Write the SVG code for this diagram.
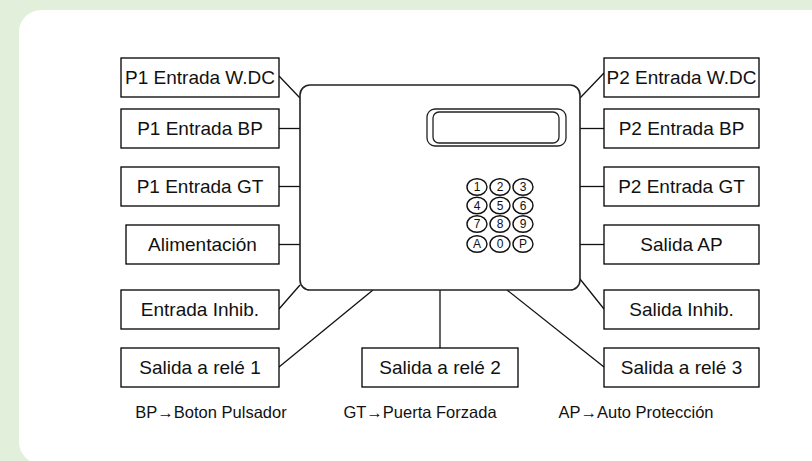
<svg xmlns="http://www.w3.org/2000/svg" width="812" height="461" viewBox="0 0 812 461">
<style>
.box{fill:#fff;stroke:#000;stroke-width:1.3}
.lbl{font-family:"Liberation Sans",Arial,sans-serif;font-size:19px;fill:#111;text-anchor:middle}
.key{fill:#fff;stroke:#111;stroke-width:1.4}
.kt{font-family:"Liberation Sans",Arial,sans-serif;font-size:12px;fill:#111;text-anchor:middle}
.note{font-family:"Liberation Sans",Arial,sans-serif;font-size:16.5px;fill:#111;text-anchor:middle}
.cn{stroke:#111;stroke-width:1.3;fill:none}
</style>
<rect x="0" y="0" width="812" height="461" fill="#e2efda"/>
<rect x="19" y="10" width="820" height="454" rx="22" fill="#fff"/>
<g id="connectors">
<path class="cn" d="M279 76 L300 98"/>
<path class="cn" d="M279 128.5 H300"/>
<path class="cn" d="M279 186.5 H300"/>
<path class="cn" d="M279 244.5 H300"/>
<path class="cn" d="M279 309 L300 285"/>
<path class="cn" d="M279 367 L373 290"/>
<path class="cn" d="M440 290 V348"/>
<path class="cn" d="M507 290 L604 367"/>
<path class="cn" d="M580 279 L604 309"/>
<path class="cn" d="M580 244.5 H604"/>
<path class="cn" d="M580 186.5 H604"/>
<path class="cn" d="M580 128.5 H604"/>
<path class="cn" d="M580 98 L604 73"/>
</g>
<g id="controller">
<rect x="300" y="85" width="280" height="205" rx="10" fill="#fff" stroke="#222" stroke-width="1.6"/>
<rect x="427" y="109" width="139" height="37" rx="8" fill="#fff" stroke="#222" stroke-width="1.3"/>
<rect x="433" y="112" width="126" height="31" rx="6" fill="#fff" stroke="#222" stroke-width="1.3"/>
<g id="keypad">
<ellipse class="key" cx="477" cy="187" rx="10" ry="8.3"/><text class="kt" x="477" y="191.3">1</text>
<ellipse class="key" cx="500" cy="187" rx="10" ry="8.3"/><text class="kt" x="500" y="191.3">2</text>
<ellipse class="key" cx="523" cy="187" rx="10" ry="8.3"/><text class="kt" x="523" y="191.3">3</text>
<ellipse class="key" cx="477" cy="205.5" rx="10" ry="8.3"/><text class="kt" x="477" y="209.8">4</text>
<ellipse class="key" cx="500" cy="205.5" rx="10" ry="8.3"/><text class="kt" x="500" y="209.8">5</text>
<ellipse class="key" cx="523" cy="205.5" rx="10" ry="8.3"/><text class="kt" x="523" y="209.8">6</text>
<ellipse class="key" cx="477" cy="224" rx="10" ry="8.3"/><text class="kt" x="477" y="228.3">7</text>
<ellipse class="key" cx="500" cy="224" rx="10" ry="8.3"/><text class="kt" x="500" y="228.3">8</text>
<ellipse class="key" cx="523" cy="224" rx="10" ry="8.3"/><text class="kt" x="523" y="228.3">9</text>
<ellipse class="key" cx="477" cy="244" rx="10" ry="8.3"/><text class="kt" x="477" y="248.3">A</text>
<ellipse class="key" cx="500" cy="244" rx="10" ry="8.3"/><text class="kt" x="500" y="248.3">0</text>
<ellipse class="key" cx="523" cy="244" rx="10" ry="8.3"/><text class="kt" x="523" y="248.3">P</text>
</g>
</g>
<g id="p1-wdc"><rect class="box" x="121" y="58" width="158" height="39"/><text class="lbl" x="200" y="84.3">P1 Entrada W.DC</text></g>
<g id="p1-bp"><rect class="box" x="121" y="109" width="158" height="39"/><text class="lbl" x="200" y="135.3">P1 Entrada BP</text></g>
<g id="p1-gt"><rect class="box" x="121" y="167" width="158" height="39"/><text class="lbl" x="200" y="193.3">P1 Entrada GT</text></g>
<g id="alim"><rect class="box" x="126" y="225" width="153" height="39"/><text class="lbl" x="202.5" y="251.3">Alimentación</text></g>
<g id="ent-inhib"><rect class="box" x="121" y="290" width="158" height="39"/><text class="lbl" x="200" y="316.3">Entrada Inhib.</text></g>
<g id="rele1"><rect class="box" x="121" y="348" width="158" height="39"/><text class="lbl" x="200" y="374.3">Salida a relé 1</text></g>
<g id="rele2"><rect class="box" x="362" y="348" width="156" height="39"/><text class="lbl" x="440" y="374.3">Salida a relé 2</text></g>
<g id="p2-wdc"><rect class="box" x="604" y="58" width="155" height="39"/><text class="lbl" x="681.5" y="84.3">P2 Entrada W.DC</text></g>
<g id="p2-bp"><rect class="box" x="604" y="109" width="155" height="39"/><text class="lbl" x="681.5" y="135.3">P2 Entrada BP</text></g>
<g id="p2-gt"><rect class="box" x="604" y="167" width="155" height="39"/><text class="lbl" x="681.5" y="193.3">P2 Entrada GT</text></g>
<g id="sal-ap"><rect class="box" x="604" y="225" width="155" height="39"/><text class="lbl" x="681.5" y="251.3">Salida AP</text></g>
<g id="sal-inhib"><rect class="box" x="604" y="290" width="155" height="39"/><text class="lbl" x="681.5" y="316.3">Salida Inhib.</text></g>
<g id="rele3"><rect class="box" x="604" y="348" width="155" height="39"/><text class="lbl" x="681.5" y="374.3">Salida a relé 3</text></g>
<g id="notes">
<text class="note" x="211" y="418">BP→Boton Pulsador</text>
<text class="note" x="420" y="418">GT→Puerta Forzada</text>
<text class="note" x="636" y="418">AP→Auto Protección</text>
</g>
</svg>
